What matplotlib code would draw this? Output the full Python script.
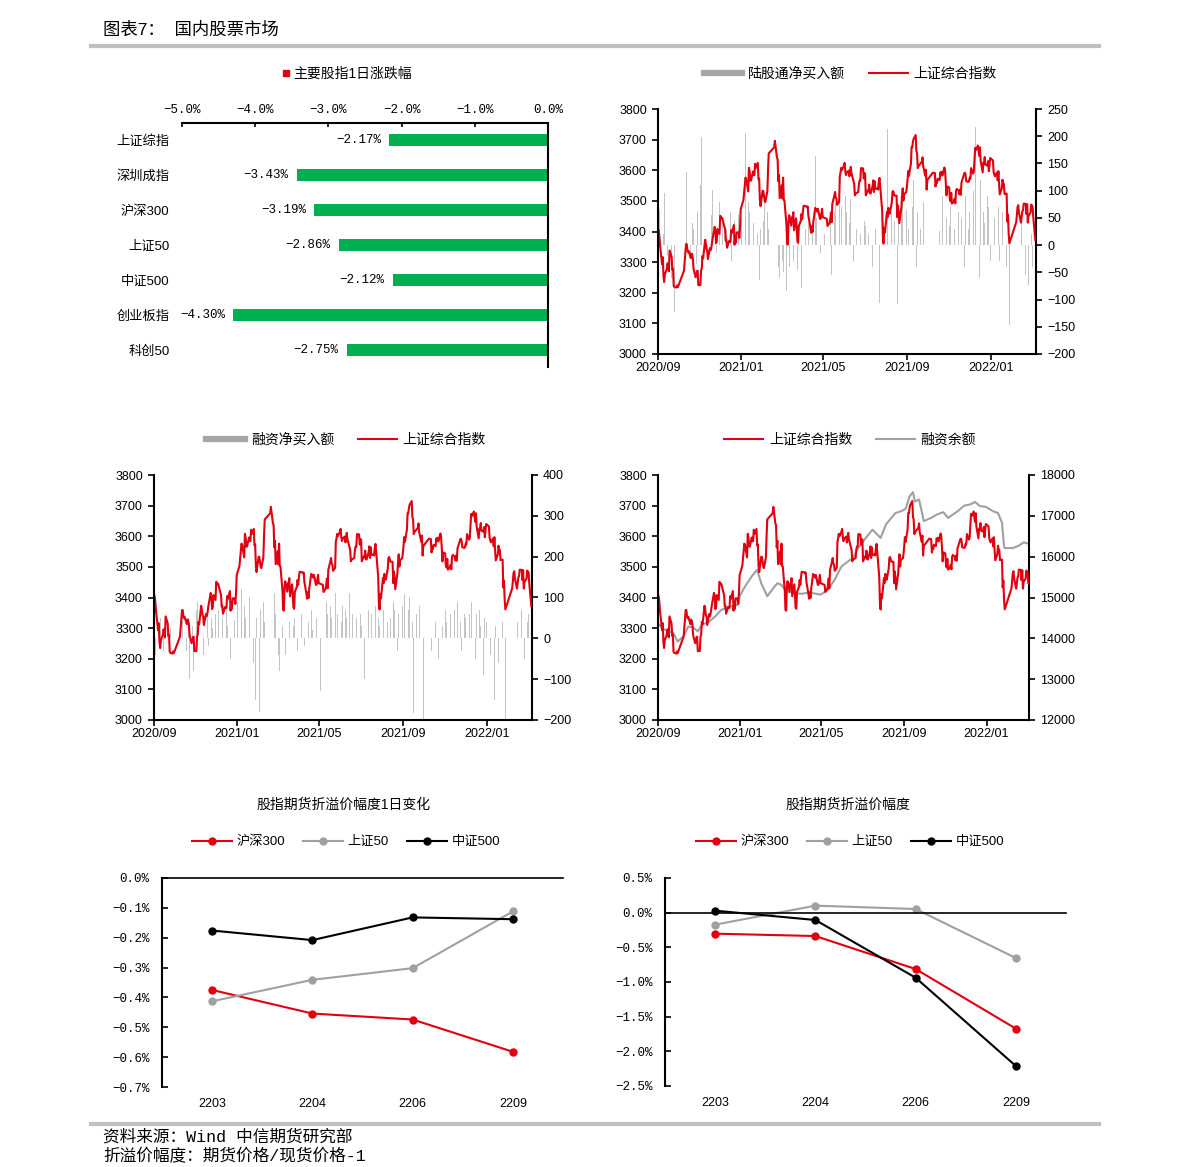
import matplotlib
matplotlib.use("Agg")
import matplotlib.pyplot as plt
import matplotlib.dates as mdates
from matplotlib.lines import Line2D
import pandas as pd

plt.rcParams["font.family"] = ["Liberation Sans", "Noto Sans CJK SC"]
MONO = ["Liberation Mono", "Noto Sans CJK SC"]

RED = "#e1000f"
GREEN = "#00b050"
GREY = "#a0a0a0"
BAR_GREY = "#c4c4c4"
LEG_GREY = "#a6a6a6"

# ---- panel 1: daily change of major indices ----
IDX_NAMES = ["上证综指", "深圳成指", "沪深300", "上证50", "中证500", "创业板指", "科创50"]
IDX_CHG = [-2.17, -3.43, -3.19, -2.86, -2.12, -4.30, -2.75]

# ---- 上证综指 close (YYMMDD) ----
SH_DATES = [
    "200901", "200902", "200903", "200904", "200907", "200908", "200909", "200910", "200911", "200914", "200915",
    "200916", "200917", "200918", "200921", "200922", "200923", "200924", "200925", "200928", "200929", "200930",
    "201009", "201012", "201013", "201014", "201015", "201016", "201019", "201020", "201021", "201022", "201023",
    "201026", "201027", "201028", "201029", "201030",
    "201102", "201103", "201104", "201105", "201106", "201109", "201110", "201111", "201112", "201113", "201116",
    "201117", "201118", "201119", "201120", "201123", "201124", "201125", "201126", "201127", "201130",
    "201201", "201202", "201203", "201204", "201207", "201208", "201209", "201210", "201211", "201214", "201215",
    "201216", "201217", "201218", "201221", "201222", "201223", "201224", "201225", "201228", "201229", "201230", "201231",
    "210104", "210105", "210106", "210107", "210108", "210111", "210112", "210113", "210114", "210115", "210118",
    "210119", "210120", "210121", "210122", "210125", "210126", "210127", "210128", "210129",
    "210201", "210202", "210203", "210204", "210205", "210208", "210209", "210210", "210218", "210219", "210222",
    "210223", "210224", "210225", "210226",
    "210301", "210302", "210303", "210304", "210305", "210308", "210309", "210310", "210311", "210312", "210315",
    "210316", "210317", "210318", "210319", "210322", "210323", "210324", "210325", "210326", "210329", "210330", "210331",
    "210401", "210402", "210406", "210407", "210408", "210409", "210412", "210413", "210414", "210415", "210416",
    "210419", "210420", "210421", "210422", "210423", "210426", "210427", "210428", "210429", "210430",
    "210506", "210507", "210510", "210511", "210512", "210513", "210514", "210517", "210518", "210519", "210520",
    "210521", "210524", "210525", "210526", "210527", "210528", "210531",
    "210601", "210602", "210603", "210604", "210607", "210608", "210609", "210610", "210611", "210615", "210616",
    "210617", "210618", "210621", "210622", "210623", "210624", "210625", "210628", "210629", "210630",
    "210701", "210702", "210705", "210706", "210707", "210708", "210709", "210712", "210713", "210714", "210715",
    "210716", "210719", "210720", "210721", "210722", "210723", "210726", "210727", "210728", "210729", "210730",
    "210802", "210803", "210804", "210805", "210806", "210809", "210810", "210811", "210812", "210813", "210816",
    "210817", "210818", "210819", "210820", "210823", "210824", "210825", "210826", "210827", "210830", "210831",
    "210901", "210902", "210903", "210906", "210907", "210908", "210909", "210910", "210913", "210914", "210915",
    "210916", "210917", "210922", "210923", "210924", "210927", "210928", "210929", "210930",
    "211008", "211011", "211012", "211013", "211014", "211015", "211018", "211019", "211020", "211021", "211022",
    "211025", "211026", "211027", "211028", "211029",
    "211101", "211102", "211103", "211104", "211105", "211108", "211109", "211110", "211111", "211112", "211115",
    "211116", "211117", "211118", "211119", "211122", "211123", "211124", "211125", "211126", "211129", "211130",
    "211201", "211202", "211203", "211206", "211207", "211208", "211209", "211210", "211213", "211214", "211215",
    "211216", "211217", "211220", "211221", "211222", "211223", "211224", "211227", "211228", "211229", "211230", "211231",
    "220104", "220105", "220106", "220107", "220110", "220111", "220112", "220113", "220114", "220117", "220118",
    "220119", "220120", "220121", "220124", "220125", "220126", "220127", "220128",
    "220207", "220208", "220209", "220210", "220211", "220214", "220215", "220216", "220217", "220218", "220221",
    "220222", "220223", "220224", "220225", "220228",
    "220301", "220302", "220303", "220304", "220307",
]
SH_CLOSE = [
    3410, 3404, 3385, 3355, 3293, 3316, 3255, 3235, 3260, 3278, 3296,
    3283, 3270, 3338, 3316, 3275, 3279, 3223, 3219, 3217, 3224, 3218,
    3272, 3359, 3359, 3340, 3332, 3336, 3313, 3328, 3325, 3312, 3278,
    3251, 3254, 3270, 3272, 3225,
    3225, 3272, 3278, 3320, 3312, 3373, 3360, 3342, 3338, 3310, 3346,
    3339, 3347, 3363, 3378, 3415, 3402, 3362, 3369, 3408, 3392,
    3451, 3449, 3443, 3444, 3416, 3410, 3371, 3373, 3347, 3369, 3367,
    3366, 3404, 3395, 3421, 3357, 3383, 3363, 3397, 3397, 3379, 3414, 3473,
    3503, 3528, 3550, 3576, 3570, 3531, 3608, 3598, 3566, 3566, 3596,
    3584, 3584, 3621, 3607, 3624, 3570, 3573, 3505, 3483,
    3533, 3533, 3517, 3501, 3496, 3532, 3603, 3655, 3675, 3696, 3642,
    3636, 3564, 3585, 3509,
    3551, 3508, 3576, 3503, 3501, 3421, 3359, 3357, 3436, 3453, 3419,
    3446, 3445, 3463, 3404, 3443, 3411, 3367, 3363, 3418, 3435, 3457, 3441,
    3466, 3484, 3482, 3479, 3482, 3451, 3412, 3396, 3417, 3398, 3427,
    3477, 3472, 3472, 3465, 3474, 3441, 3442, 3457, 3474, 3447,
    3441, 3418, 3428, 3441, 3462, 3430, 3490, 3518, 3529, 3511, 3507,
    3487, 3497, 3581, 3593, 3608, 3600, 3615,
    3624, 3597, 3584, 3592, 3599, 3580, 3591, 3611, 3590, 3556, 3518,
    3525, 3525, 3529, 3557, 3566, 3566, 3607, 3606, 3573, 3591,
    3588, 3518, 3534, 3531, 3553, 3525, 3524, 3548, 3567, 3529, 3564,
    3539, 3540, 3537, 3562, 3575, 3550, 3467, 3382, 3361, 3411, 3397,
    3464, 3447, 3477, 3466, 3458, 3494, 3529, 3532, 3524, 3517, 3517,
    3447, 3485, 3465, 3427, 3477, 3514, 3541, 3501, 3522, 3528, 3543,
    3567, 3597, 3581, 3621, 3676, 3675, 3693, 3703, 3715, 3662, 3656,
    3607, 3613, 3628, 3642, 3613, 3582, 3602, 3537, 3568,
    3592, 3591, 3547, 3561, 3558, 3572, 3568, 3593, 3587, 3595, 3583,
    3609, 3598, 3562, 3518, 3547,
    3544, 3505, 3498, 3526, 3491, 3498, 3507, 3492, 3532, 3539, 3533,
    3521, 3537, 3520, 3560, 3582, 3589, 3592, 3585, 3564, 3562, 3564,
    3576, 3573, 3607, 3589, 3595, 3637, 3673, 3666, 3681, 3662, 3647,
    3675, 3632, 3593, 3625, 3622, 3643, 3618, 3615, 3630, 3597, 3619, 3640,
    3632, 3595, 3586, 3580, 3593, 3567, 3597, 3555, 3521, 3541, 3569,
    3558, 3555, 3522, 3524, 3433, 3455, 3394, 3361,
    3430, 3453, 3480, 3486, 3462, 3429, 3446, 3466, 3469, 3491, 3490,
    3457, 3489, 3429, 3451, 3462,
    3488, 3484, 3481, 3447, 3372,
]

# ---- 陆股通净买入额 (亿元), every other trading day ----
NB_FLOW = [
    -30, 65, -45, 20, 96, -20, 15, -60, 35, -122, 10,
    0, 0, 0, 114, 135, 20, -25, 40, 30, -35, 60,
    111, 198, 45, 70, -20, 30, 55, 102, 25, -15, 80,
    163, 40, -50, 30, 20, 60, -30, 45, 15, 55, 35,
    50, 30, 206, 80, 60, 70, 40, -25, 20, -64, 30,
    45, 90, 60, 30, 0, 0, 0, 120, -40, -60, -30,
    -50, -85, 30, -40, 20, -30, 25, -45, 15, -79, 10,
    30, -20, 40, 60, 25, 164, 50, 30, -15, 45, 20,
    0, 0, 40, -55, 60, 80, 45, 100, 70, 217, 90,
    60, 40, 85, -30, 50, 30, 110, 20, -20, 45, 35,
    20, 35, -40, 60, 30, 50, -107, 20, 40, -128, 213,
    80, 60, 100, 45, -108, 50, 70, 90, 40, 65, 30,
    90, 70, 120, -40, 60, 30, -50, 80, 40, 0, 20,
    0, 0, 0, 60, 25, 40, 90, -20, 50, 35, 70,
    40, 30, -118, 60, 80, 50, -40, 90, 30, 60, 45,
    100, 217, 80, -60, 120, 60, 40, 90, 70, -30, 60,
    50, -67, 70, -30, 60, 90, -40, 80, -147, 0, 0,
    0, 0, 60, 40, -30, -55, 40, -73, 20, -40, 30,
]

# ---- 融资净买入额 (亿元), every other trading day ----
MG_FLOW = [
    30, -40, -110, 20, 50, -30, 40, 15, -60, 25, -163,
    0, 0, 0, 120, 60, 40, -30, 50, -100, 30, -80,
    70, 90, 40, 60, -40, 30, 80, -20, 50, 25, 60,
    40, 70, -30, 50, 20, 90, 30, -50, 60, 45, 30,
    90, 60, 120, 80, 50, 40, 100, 30, -60, -150, 50,
    -180, 70, 90, 40, 0, 0, 0, 233, 110, 60, -40,
    -80, 30, 50, -40, 20, 40, -60, 30, 50, -30, 40,
    60, 30, -20, 50, 40, 70, 20, -30, 50, 30, -130,
    0, 0, 90, 60, 80, 50, 70, 110, 60, 100, 40,
    80, 70, 50, 110, 40, 60, -100, 50, 90, 60, 30,
    -100, 50, 70, 90, 60, -40, 80, 50, 30, -150, 70,
    60, 40, 80, 50, 90, 70, -30, 60, 110, 80, 108,
    90, 70, 100, 40, -184, 60, 30, 80, -60, -200, 0,
    0, 0, -30, 70, 40, 60, -50, 50, 30, 70, 40,
    110, 60, -40, 70, 50, 90, 40, -30, 60, 50, 80,
    60, 90, 40, -50, 60, 70, 30, -90, 50, 40, 60,
    -40, 50, -150, 30, -60, -100, 40, -70, -200, 0, 0,
    0, 0, 50, 40, -60, 70, 30, -50, 40, 60, -40,
]

# ---- 融资余额 (亿元) ----
MB_DATES = [
    "200901", "200911", "200924", "200930", "201009", "201016", "201023", "201030", "201105", "201116",
    "201125", "201204", "201218", "201228", "201231", "210108", "210118", "210122", "210126", "210201",
    "210210", "210219", "210225", "210303", "210310", "210323", "210402", "210412", "210421", "210430",
    "210511", "210521", "210531", "210607", "210617", "210625", "210706", "210716", "210728", "210805",
    "210812", "210819", "210827", "210903", "210909", "210914", "210917", "210923", "210928", "210930",
    "211011", "211019", "211029", "211105", "211112", "211119", "211129", "211208", "211215", "211222",
    "211231", "220111", "220118", "220124", "220127", "220128", "220209", "220218", "220225", "220304",
]
MB_VALUE = [
    14360, 14210, 14130, 13920, 14050, 14290, 14270, 14170, 14330, 14410,
    14540, 14700, 14780, 14820, 15030, 15270, 15520, 15600, 15680, 15350,
    15030, 15230, 15350, 15310, 15150, 15110, 15090, 15120, 15100, 15070,
    15190, 15440, 15760, 15850, 15970, 16210, 16460, 16660, 16460, 16790,
    16930, 17070, 17110, 17170, 17480, 17580, 17350, 17400, 17030, 16870,
    16950, 17030, 17090, 16950, 17030, 17110, 17250, 17280, 17340, 17240,
    17220, 17110, 17070, 16830, 16250, 16210, 16210, 16270, 16350, 16320,
]

# ---- futures basis ----
CONTRACTS = ["2203", "2204", "2206", "2209"]
CHG_300 = [-0.375, -0.454, -0.474, -0.582]
CHG_50 = [-0.413, -0.341, -0.302, -0.112]
CHG_500 = [-0.176, -0.208, -0.132, -0.138]
BASIS_300 = [-0.303, -0.337, -0.813, -1.673]
BASIS_50 = [-0.173, 0.101, 0.053, -0.654]
BASIS_500 = [0.029, -0.106, -0.938, -2.212]

DATE_TICKS = ["2020-09-01", "2021-01-01", "2021-05-01", "2021-09-01", "2022-01-01"]

W, H = 1191, 1167
fig = plt.figure(figsize=(W / 100, H / 100), dpi=100)


def fx(x):
    return x / W


def fy(y):
    return 1 - y / H


def px_axes(x0, y0, x1, y1):
    return fig.add_axes([fx(x0), fy(y1), (x1 - x0) / W, (y1 - y0) / H])


sh = pd.Series(SH_CLOSE, index=pd.to_datetime(SH_DATES, format="%y%m%d"))
mb = pd.Series(MB_VALUE, index=pd.to_datetime(MB_DATES, format="%y%m%d"))
flow_dates = pd.bdate_range("2020-09-01", "2022-03-07")[::2]

# header / footer
fig.text(fx(103), fy(30), "图表7：  国内股票市场", fontsize=12.5, va="center", ha="left")
for yy in (46.3, 1123.5):
    fig.add_artist(Line2D([fx(91), fx(1099)], [fy(yy), fy(yy)], color="#c0c0c0", lw=3))
fig.text(fx(103), fy(1137), "资料来源：Wind 中信期货研究部", fontsize=12, va="center",
         ha="left", family=MONO)
fig.text(fx(103), fy(1156), "折溢价幅度：期货价格/现货价格-1", fontsize=12, va="center",
         ha="left", family=MONO)

# ---------------- panel 1 ----------------
ax1 = px_axes(182, 122.5, 548, 367.5)
ypos = list(range(len(IDX_NAMES)))
ax1.barh(ypos, IDX_CHG, height=0.32, color=GREEN)
ax1.set_xlim(-5, 0)
ax1.set_ylim(6.5, -0.5)
ax1.xaxis.tick_top()
ax1.set_xticks([-5, -4, -3, -2, -1, 0])
ax1.set_xticklabels(["−5.0%", "−4.0%", "−3.0%", "−2.0%", "−1.0%", "0.0%"], family=MONO, fontsize=9)
ax1.set_yticks(ypos)
ax1.set_yticklabels(IDX_NAMES, fontsize=9.5)
ax1.tick_params(axis="y", length=0, pad=9)
ax1.tick_params(axis="x", direction="in", length=3, width=1.2, pad=5)
for s in ("left", "bottom"):
    ax1.spines[s].set_visible(False)
for s in ("top", "right"):
    ax1.spines[s].set_linewidth(1.5)
for i, v in enumerate(IDX_CHG):
    ax1.annotate(f"−{abs(v):.2f}%", xy=(v, i), xytext=(-6, 0), textcoords="offset points",
                 ha="right", va="center", fontsize=9, family=MONO)
fig.legend([Line2D([], [], marker="s", color=RED, ls="none", markersize=4.5)],
           ["主要股指1日涨跌幅"], loc="center", bbox_to_anchor=(fx(346), fy(74)),
           frameon=False, fontsize=10, handletextpad=0.1, handlelength=0.8)


# ---------------- panels 2-4 ----------------
def index_panel(box, xend):
    ax = px_axes(*box)
    axr = ax.twinx()
    ax.set_zorder(axr.get_zorder() + 1)
    ax.patch.set_visible(False)
    ax.set_xlim(pd.Timestamp("2020-09-01"), pd.Timestamp(xend))
    ax.set_xticks([pd.Timestamp(d) for d in DATE_TICKS])
    ax.xaxis.set_major_formatter(mdates.DateFormatter("%Y/%m"))
    ax.set_ylim(3000, 3800)
    ax.set_yticks(range(3000, 3801, 100))
    for a in (ax, axr):
        a.spines["top"].set_visible(False)
        for s in ("left", "right", "bottom"):
            a.spines[s].set_linewidth(1.5)
        a.tick_params(direction="out", length=4, width=1.2, pad=4, labelsize=9)
    ax.spines["right"].set_visible(False)
    axr.spines["left"].set_visible(False)
    axr.spines["bottom"].set_visible(False)
    ax.tick_params(axis="x", pad=2)
    return ax, axr


def index_legend(cx, cy, handles, labels):
    fig.legend(handles, labels, loc="center", bbox_to_anchor=(fx(cx), fy(cy)), ncol=2,
               frameon=False, fontsize=10, handlelength=2.8, handletextpad=0.4,
               columnspacing=1.7)


# panel 2
ax2, ax2r = index_panel((658, 109, 1036, 354), "2022-03-08")
ax2r.bar(flow_dates[:len(NB_FLOW)], NB_FLOW[:len(flow_dates)], width=1.0, color=BAR_GREY, linewidth=0)
ax2r.set_ylim(-200, 250)
ax2r.set_yticks(range(-200, 251, 50))
ax2.plot(sh.index, sh.values, color=RED, lw=1.5)
index_legend(850, 74, [Line2D([], [], color=LEG_GREY, lw=4.5), Line2D([], [], color=RED, lw=1.5)],
             ["陆股通净买入额", "上证综合指数"])

# panel 3
ax3, ax3r = index_panel((154, 475, 532, 720), "2022-03-08")
ax3r.bar(flow_dates[:len(MG_FLOW)], MG_FLOW[:len(flow_dates)], width=1.0, color=BAR_GREY, linewidth=0)
ax3r.set_ylim(-200, 400)
ax3r.set_yticks(range(-200, 401, 100))
ax3.plot(sh.index, sh.values, color=RED, lw=1.5)
index_legend(346, 440, [Line2D([], [], color=LEG_GREY, lw=4.5), Line2D([], [], color=RED, lw=1.5)],
             ["融资净买入额", "上证综合指数"])

# panel 4
ax4, ax4r = index_panel((658, 475, 1029, 720), "2022-03-05")
sh4 = sh[sh.index <= "2022-03-04"]
ax4r.plot(mb.index, mb.values, color=GREY, lw=1.5)
ax4r.set_ylim(12000, 18000)
ax4r.set_yticks(range(12000, 18001, 1000))
ax4.plot(sh4.index, sh4.values, color=RED, lw=1.5)
index_legend(850, 440, [Line2D([], [], color=RED, lw=1.5), Line2D([], [], color=GREY, lw=1.5)],
             ["上证综合指数", "融资余额"])


# ---------------- panels 5-6 ----------------
def basis_panel(box, s300, s50, s500, ylim, yticks, title, cx):
    ax = px_axes(*box)
    xs = range(len(CONTRACTS))
    for vals, c in ((s300, RED), (s50, GREY), (s500, "black")):
        ax.plot(xs, vals, color=c, lw=1.5, marker="o", markersize=5)
    ax.set_xlim(-0.5, 3.5)
    ax.set_ylim(*ylim)
    ax.set_xticks(list(xs))
    ax.set_xticklabels(CONTRACTS, fontsize=9)
    ax.set_yticks(yticks)
    ax.set_yticklabels([f"{v:.1f}%".replace("-", "−") if abs(v) > 1e-9 else "0.0%" for v in yticks],
                       family=MONO, fontsize=9)
    ax.tick_params(axis="x", length=0, pad=8)
    ax.tick_params(axis="y", direction="in", length=4, width=1.2, pad=9)
    for s in ("top", "right", "bottom"):
        ax.spines[s].set_visible(False)
    ax.spines["left"].set_linewidth(1.5)
    ax.axhline(0, color="black", lw=1.2, clip_on=False)
    fig.text(fx(cx), fy(805), title, fontsize=10, ha="center", va="center")
    handles = [Line2D([], [], color=c, lw=1.5, marker="o", markersize=5) for c in (RED, GREY, "black")]
    fig.legend(handles, ["沪深300", "上证50", "中证500"], loc="center",
               bbox_to_anchor=(fx(cx + 2), fy(842)), ncol=3, frameon=False, fontsize=9.5,
               handlelength=3.0, handletextpad=0.35, columnspacing=1.4)


basis_panel((162, 878, 563, 1087), CHG_300, CHG_50, CHG_500, (-0.7, 0),
            [-0.7, -0.6, -0.5, -0.4, -0.3, -0.2, -0.1, 0.0], "股指期货折溢价幅度1日变化", 344)
basis_panel((665, 878, 1066, 1086), BASIS_300, BASIS_50, BASIS_500, (-2.5, 0.5),
            [-2.5, -2.0, -1.5, -1.0, -0.5, 0.0, 0.5], "股指期货折溢价幅度", 848)

fig.savefig("out.png", dpi=100)
